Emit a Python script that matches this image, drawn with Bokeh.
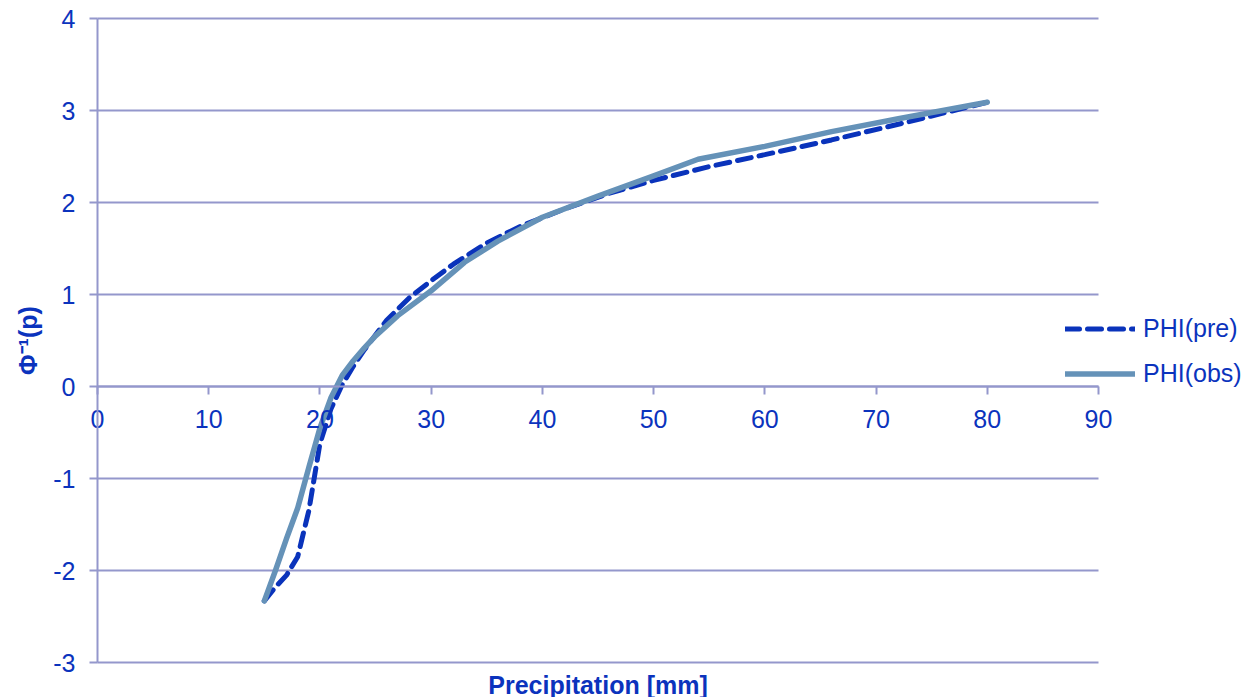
from bokeh.plotting import figure
from bokeh.models import Legend, LegendItem, Label, FixedTicker, PrintfTickFormatter
from bokeh.embed import file_html
from bokeh.resources import INLINE

# ---- data ----
pre_x = [15, 16, 17, 18, 19, 20, 21, 22, 23, 24, 26, 28, 30, 32, 35, 38, 42, 46, 50, 55, 60, 66, 72, 80]
pre_y = [-2.33, -2.18, -2.05, -1.85, -1.35, -0.62, -0.24, 0.02, 0.22, 0.40, 0.72, 0.96, 1.15, 1.33,
         1.56, 1.74, 1.93, 2.10, 2.24, 2.39, 2.52, 2.68, 2.85, 3.09]

obs_x = [15, 16, 17, 18, 19, 20, 21, 22, 23, 24, 25, 27, 30, 33, 36, 40, 45, 50, 54, 60, 66, 72, 80]
obs_y = [-2.33, -2.00, -1.65, -1.32, -0.88, -0.45, -0.12, 0.12, 0.28, 0.42, 0.55, 0.77, 1.04, 1.35,
         1.58, 1.84, 2.07, 2.29, 2.47, 2.61, 2.77, 2.91, 3.09]

x_ticks = [0, 10, 20, 30, 40, 50, 60, 70, 80, 90]
y_ticks = [-3, -2, -1, 0, 1, 2, 3, 4]

series_names = ["PHI(pre)", "PHI(obs)"]
x_title = "Precipitation [mm]"
y_title = "\u03a6\u207b\u00b9(p)"

TEXT = "#0b33bd"
GRID = "#9497cc"
PRE_C = "#0a33bb"
OBS_C = "#6592b8"
FONT = "Liberation Sans"

W, H = 1257, 697
# plot area of the axes in pixels: x 97..1098, y 18..662
L, R, T, B = 97, 1098, 18, 662
x0, x1 = x_ticks[0], x_ticks[-1]
y0, y1 = y_ticks[0], y_ticks[-1]
sx = (R - L) / (x1 - x0)
sy = (B - T) / (y1 - y0)
x_range = (x0 - L / sx, x1 + (W - R) / sx)
y_range = (y0 - (H - B) / sy, y1 + T / sy)

p = figure(width=W, height=H, output_backend="svg", toolbar_location=None,
           x_range=x_range, y_range=y_range,
           min_border=0, min_border_left=0, min_border_right=0,
           min_border_top=0, min_border_bottom=0)
p.outline_line_color = None
p.background_fill_color = "white"
p.border_fill_color = "white"

# horizontal grid lines spanning only the plot area (0..90)
p.xgrid.grid_line_color = None
p.ygrid.grid_line_color = None
p.segment(x0=[x0] * len(y_ticks), y0=y_ticks, x1=[x1] * len(y_ticks), y1=y_ticks,
          line_color=GRID, line_width=2)

# x axis crossing at y = 0
xa = p.xaxis[0]
xa.fixed_location = 0
xa.bounds = (x0, x1)
xa.ticker = FixedTicker(ticks=x_ticks)
xa.formatter = PrintfTickFormatter(format="%d")
xa.minor_tick_line_color = None
xa.major_tick_in = 0
xa.major_tick_out = 8
xa.axis_line_color = GRID
xa.axis_line_width = 2
xa.major_tick_line_color = GRID
xa.major_tick_line_width = 2
xa.major_label_text_color = TEXT
xa.major_label_text_font = FONT
xa.major_label_text_font_size = "25px"
xa.major_label_standoff = 15

ya = p.yaxis[0]
ya.fixed_location = 0
ya.bounds = (y0, y1)
ya.ticker = FixedTicker(ticks=y_ticks)
ya.formatter = PrintfTickFormatter(format="%d")
ya.minor_tick_line_color = None
ya.major_tick_in = 0
ya.major_tick_out = 8
ya.axis_line_color = GRID
ya.axis_line_width = 2
ya.major_tick_line_color = GRID
ya.major_tick_line_width = 2
ya.major_label_text_color = TEXT
ya.major_label_text_font = FONT
ya.major_label_text_font_size = "25px"
ya.major_label_standoff = 14
ya.axis_label = y_title
ya.axis_label_text_font = FONT
ya.axis_label_text_font_size = "25px"
ya.axis_label_text_font_style = "bold"
ya.axis_label_text_color = TEXT
ya.axis_label_standoff = 8

p.add_layout(Label(x=(x0 + x1) / 2, y=y0 - 22 / sy, text=x_title, text_align="center",
                   text_baseline="middle", text_font=FONT, text_font_size="25px",
                   text_font_style="bold", text_color=TEXT))

r_pre = p.line(pre_x, pre_y, line_color=PRE_C, line_width=5, line_dash="14 8", line_cap="round")
r_obs = p.line(obs_x, obs_y, line_color=OBS_C, line_width=5.5, line_cap="round", line_join="round")

legend = Legend(items=[LegendItem(label=series_names[0], renderers=[r_pre]),
                       LegendItem(label=series_names[1], renderers=[r_obs])],
                location=(1065, 309), orientation="vertical",
                background_fill_alpha=0, border_line_color=None,
                padding=0, margin=0, spacing=16, glyph_width=70, glyph_height=25,
                label_height=25, label_standoff=8,
                label_text_font=FONT, label_text_font_size="25px", label_text_color=TEXT)
p.add_layout(legend, "center")

open("out.html", "w").write(file_html(p, INLINE))
